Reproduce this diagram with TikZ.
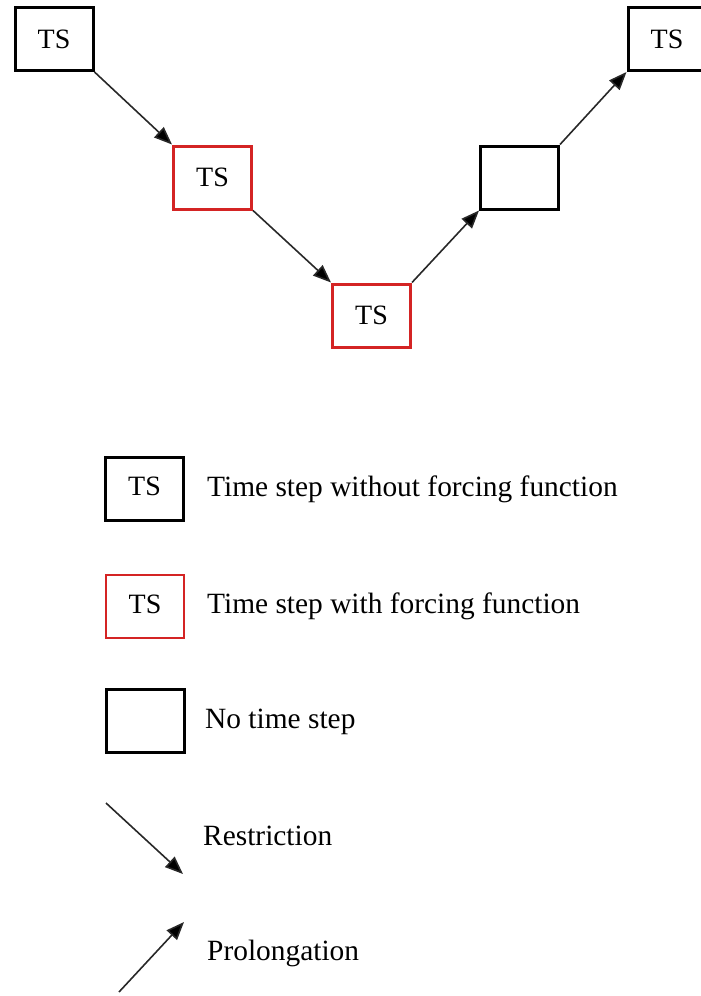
\documentclass[tikz,border=0pt]{standalone}
\usepackage{fontspec}
\setmainfont{Liberation Serif}
\usetikzlibrary{arrows.meta}
\definecolor{boxred}{RGB}{212,36,36}
\definecolor{arrowgray}{RGB}{40,40,40}
\tikzset{
  tsbox/.style={draw=black, line width=3pt, rectangle, minimum width=78pt, minimum height=63pt, inner sep=0pt, font=\fontsize{28}{32}\selectfont},
  redbox/.style={tsbox, draw=boxred},
  conn/.style={draw=arrowgray, line width=1.6pt, -{Triangle[length=18pt,width=14pt,fill=black]}},
  legtext/.style={anchor=base west, inner sep=0pt, font=\fontsize{29.4}{34}\selectfont}
}
\begin{document}
\begin{tikzpicture}[x=1pt,y=-1pt]
\useasboundingbox (0,0) rectangle (701,996);
\clip (0,0) rectangle (701,996);
% main diagram
\node[tsbox] (b1) at (54,39) {TS};
\node[redbox] (b2) at (212.5,177.5) {TS};
\node[redbox] (b3) at (371.5,315.5) {TS};
\node[tsbox] (b4) at (519.5,177.5) {};
\node[tsbox] (b5) at (667,39) {TS};
\draw[conn] (b1.south east) -- (b2.north west);
\draw[conn] (b2.south east) -- (b3.north west);
\draw[conn] (b3.north east) -- (b4.south west);
\draw[conn] (b4.north east) -- (b5.south west);
% legend
\node[tsbox] (la) at (144.5,488.5) {\raisebox{4pt}{TS}};
\node[redbox, line width=2.5pt] (lb) at (145,606.5) {\raisebox{4pt}{TS}};
\node[tsbox] (lc) at (145,720.5) {};
\node[legtext] (ta) at (207,496) {Time step without forcing function};
\node[legtext] (tb) at (207,613) {Time step with forcing function};
\node[legtext] (tc) at (205,728) {No time step};
\coordinate (r1) at (106,803);
\coordinate (r2) at (183,874);
\draw[conn] (r1) -- (r2);
\node[legtext] (tr) at (203,845) {Restriction};
\coordinate (p1) at (119,992);
\coordinate (p2) at (184,922);
\draw[conn] (p1) -- (p2);
\node[legtext] (tp) at (207,960) {Prolongation};
\end{tikzpicture}
\end{document}
